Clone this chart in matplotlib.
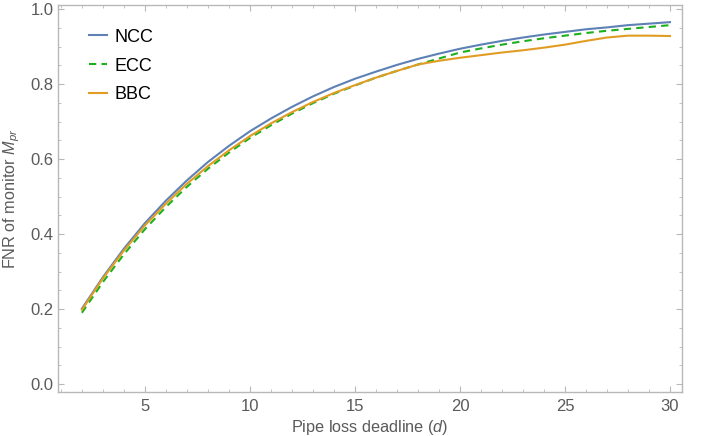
import matplotlib
matplotlib.use('Agg')
import matplotlib.pyplot as plt
from matplotlib.ticker import MultipleLocator

plt.rcParams['font.family'] = ['Liberation Sans', 'DejaVu Sans']
plt.rcParams['mathtext.fontset'] = 'custom'
plt.rcParams['mathtext.it'] = 'Liberation Sans:italic'
plt.rcParams['mathtext.rm'] = 'Liberation Sans'

# Data
deadline = list(range(2, 31))
ncc = [0.201, 0.285, 0.361, 0.429, 0.489, 0.543, 0.592, 0.635, 0.674, 0.708,
       0.739, 0.767, 0.792, 0.814, 0.833, 0.851, 0.867, 0.881, 0.894, 0.905,
       0.915, 0.924, 0.932, 0.939, 0.946, 0.951, 0.957, 0.961, 0.965]
ecc = [0.190, 0.272, 0.346, 0.413, 0.472, 0.526, 0.574, 0.617, 0.656, 0.690,
       0.721, 0.749, 0.774, 0.796, 0.817, 0.835, 0.852, 0.868, 0.884, 0.895,
       0.905, 0.914, 0.922, 0.929, 0.936, 0.942, 0.947, 0.952, 0.957]
bbc = [0.198, 0.282, 0.356, 0.423, 0.481, 0.534, 0.581, 0.623, 0.661, 0.695,
       0.725, 0.752, 0.776, 0.797, 0.817, 0.835, 0.852, 0.862, 0.870, 0.877,
       0.884, 0.890, 0.897, 0.905, 0.915, 0.924, 0.929, 0.929, 0.928]

frame_col = '#b8b8b8'
text_col = '#5a5a5a'

fig = plt.figure(figsize=(7.01, 4.36), dpi=100)
ax = fig.add_axes([0.0827, 0.1016, 0.8898, 0.8869])

ax.plot(deadline, ncc, color='#5e81b5', lw=1.5, label='NCC')
ax.plot(deadline, ecc, color='#1cb01c', lw=1.5, ls=(0, (3.5, 2.5)), label='ECC')
ax.plot(deadline, bbc, color='#e19c24', lw=1.5, label='BBC')

ax.set_xlim(0.86, 30.56)
ax.set_ylim(-0.0205, 1.0107)

ax.xaxis.set_major_locator(MultipleLocator(5))
ax.xaxis.set_minor_locator(MultipleLocator(1))
ax.yaxis.set_major_locator(MultipleLocator(0.2))
ax.yaxis.set_minor_locator(MultipleLocator(0.05))
ax.yaxis.set_major_formatter(plt.FuncFormatter(lambda v, p: f'{v:.1f}'))

for s in ax.spines.values():
    s.set_color(frame_col)
    s.set_linewidth(1.0)
ax.tick_params(which='both', direction='in', top=True, right=True,
               color=frame_col, labelcolor=text_col, labelsize=12)
ax.tick_params(which='major', length=4.5, width=0.8)
ax.tick_params(axis='x', which='major', pad=5)
ax.tick_params(axis='y', which='major', pad=3)
ax.tick_params(which='minor', length=2.5, width=0.6)

ax.set_xlabel('Pipe loss deadline ($d$)', color=text_col, fontsize=11.7, labelpad=3)
ax.set_ylabel('FNR of monitor $M_{pr}$', color=text_col, fontsize=11.7, labelpad=6)

ax.legend(loc='upper left', bbox_to_anchor=(0.023, 0.981), frameon=False,
          fontsize=13, handlelength=1.0, handletextpad=0.45, labelspacing=0.66)

plt.savefig('out.png', dpi=100)
